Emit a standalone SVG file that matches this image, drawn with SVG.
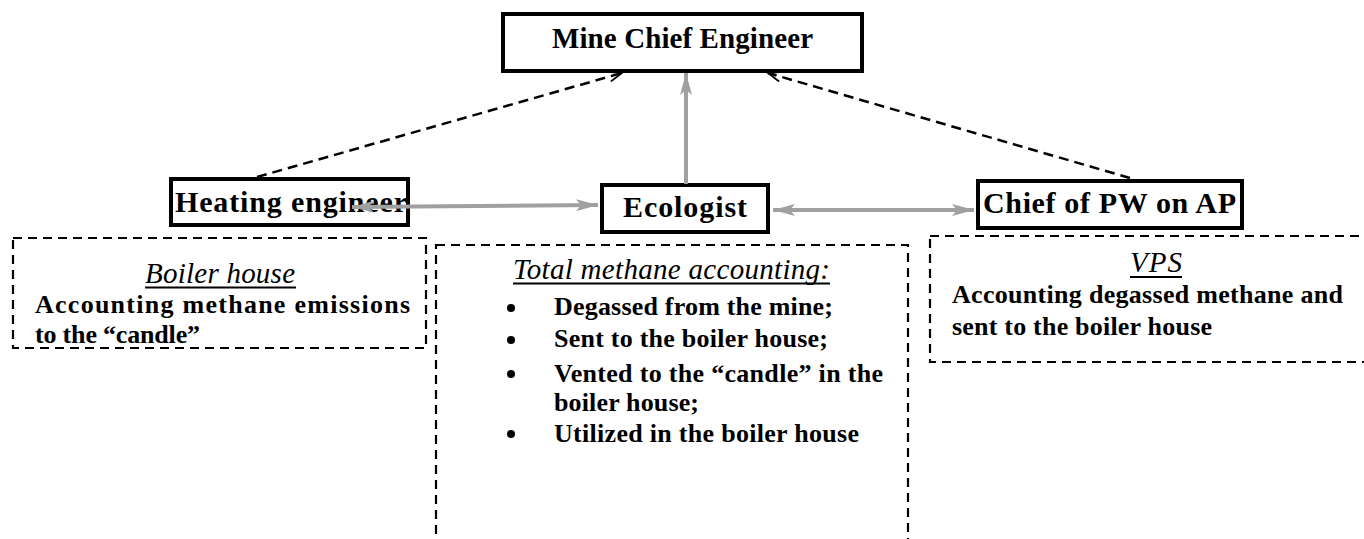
<svg xmlns="http://www.w3.org/2000/svg" width="1364" height="539" viewBox="0 0 1364 539">
<style>
.box{fill:#fff;stroke:#000;stroke-width:4}
.dbox{fill:none;stroke:#000;stroke-width:2.2;stroke-dasharray:9 6}
.ul{stroke:#000;stroke-width:2}
.dash{fill:none;stroke:#000;stroke-width:2.5;stroke-dasharray:10 6}
.gray{fill:none;stroke:#a0a0a0;stroke-width:4}
</style>
<defs>
<marker id="open" markerWidth="16" markerHeight="12" refX="14" refY="6" orient="auto" markerUnits="userSpaceOnUse">
<path d="M1,1 L14,6 L1,11" fill="none" stroke="#000" stroke-width="1.8"/>
</marker>
<marker id="gh" markerWidth="24" markerHeight="14" refX="22" refY="7" orient="auto" markerUnits="userSpaceOnUse">
<path d="M0,1 L22,7 L0,13 L5,7 Z" fill="#a0a0a0"/>
</marker>
<marker id="ghs" markerWidth="24" markerHeight="14" refX="2" refY="7" orient="auto" markerUnits="userSpaceOnUse">
<path d="M24,1 L2,7 L24,13 L19,7 Z" fill="#a0a0a0"/>
</marker>
</defs>

<g id="node-mine-chief">
<rect class="box" x="503" y="14" width="359" height="57"/>
<text x="552" y="48" font-family="Liberation Serif" font-weight="bold" font-size="29" textLength="261" lengthAdjust="spacing">Mine Chief Engineer</text>
</g>

<g id="node-heating">
<rect class="box" x="171" y="179" width="237" height="46"/>
<text x="175" y="212" font-family="Liberation Serif" font-weight="bold" font-size="30" textLength="232" lengthAdjust="spacing">Heating engineer</text>
</g>

<g id="node-ecologist">
<rect class="box" x="602" y="185" width="166" height="47"/>
<text x="623" y="217" font-family="Liberation Serif" font-weight="bold" font-size="30" textLength="124" lengthAdjust="spacing">Ecologist</text>
</g>

<g id="node-chief-pw">
<rect class="box" x="978" y="181" width="264" height="47"/>
<text x="983" y="213" font-family="Liberation Serif" font-weight="bold" font-size="30" textLength="253" lengthAdjust="spacing">Chief of PW on AP</text>
</g>

<g id="node-boiler-house">
<rect class="dbox" x="13" y="238" width="413" height="110"/>
<text x="145" y="283" font-family="Liberation Serif" font-style="italic" font-size="29" textLength="150" lengthAdjust="spacing">Boiler house</text>
<line class="ul" x1="145" y1="287.5" x2="296" y2="287.5"/>
<text x="35" y="313" font-family="Liberation Serif" font-weight="bold" font-size="26" textLength="375" lengthAdjust="spacing">Accounting methane emissions</text>
<text x="35" y="343" font-family="Liberation Serif" font-weight="bold" font-size="26" textLength="165" lengthAdjust="spacing">to the “candle”</text>
</g>

<g id="node-total-methane">
<rect class="dbox" x="436" y="245" width="472" height="310"/>
<text x="513" y="279" font-family="Liberation Serif" font-style="italic" font-size="29" textLength="317" lengthAdjust="spacing">Total methane accounting:</text>
<line class="ul" x1="513" y1="283.5" x2="830" y2="283.5"/>
<circle cx="511" cy="308" r="4"/>
<circle cx="511" cy="340" r="4"/>
<circle cx="511" cy="374" r="4"/>
<circle cx="511" cy="434" r="4"/>
<text x="554" y="315" font-family="Liberation Serif" font-weight="bold" font-size="26" textLength="279" lengthAdjust="spacing">Degassed from the mine;</text>
<text x="554" y="347" font-family="Liberation Serif" font-weight="bold" font-size="26" textLength="274" lengthAdjust="spacing">Sent to the boiler house;</text>
<text x="554" y="382" font-family="Liberation Serif" font-weight="bold" font-size="26" textLength="329" lengthAdjust="spacing">Vented to the “candle” in the</text>
<text x="554" y="411" font-family="Liberation Serif" font-weight="bold" font-size="26" textLength="145" lengthAdjust="spacing">boiler house;</text>
<text x="554" y="442" font-family="Liberation Serif" font-weight="bold" font-size="26" textLength="305" lengthAdjust="spacing">Utilized in the boiler house</text>
</g>

<g id="node-vps">
<rect class="dbox" x="930" y="236" width="450" height="126"/>
<text x="1130" y="272" font-family="Liberation Serif" font-style="italic" font-size="29" textLength="52" lengthAdjust="spacing">VPS</text>
<line class="ul" x1="1130" y1="277" x2="1182" y2="277"/>
<text x="952" y="303" font-family="Liberation Serif" font-weight="bold" font-size="26" textLength="391" lengthAdjust="spacing">Accounting degassed methane and</text>
<text x="952" y="335" font-family="Liberation Serif" font-weight="bold" font-size="26" textLength="260" lengthAdjust="spacing">sent to the boiler house</text>
</g>

<g id="connectors">
<line class="dash" x1="257" y1="177" x2="622" y2="73" marker-end="url(#open)"/>
<line class="dash" x1="1130" y1="178" x2="768" y2="73" marker-end="url(#open)"/>
<line class="gray" x1="686" y1="184" x2="686" y2="73" marker-end="url(#gh)"/>
<line class="gray" x1="352" y1="207" x2="598" y2="205" marker-start="url(#ghs)" marker-end="url(#gh)"/>
<line class="gray" x1="773" y1="210" x2="974" y2="210" marker-start="url(#ghs)" marker-end="url(#gh)"/>
</g>
</svg>
